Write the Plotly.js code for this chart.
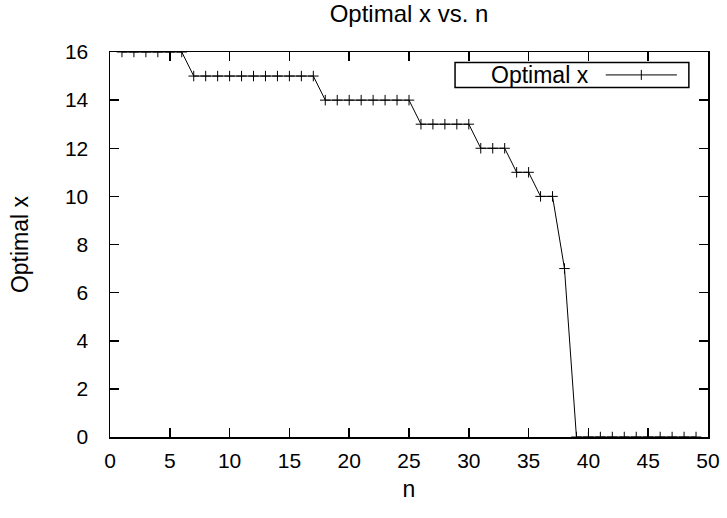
<!DOCTYPE html>
<html>
<head>
<meta charset="utf-8">
<script src="https://cdn.plot.ly/plotly-3.0.1.min.js"></script>
<style>html,body{margin:0;padding:0;background:#fff;}#chart{width:727px;height:518px;}</style>
</head>
<body>
<div id="chart"></div>
<script>
const nValues = [1,2,3,4,5,6,7,8,9,10,11,12,13,14,15,16,17,18,19,20,21,22,23,24,25,26,27,28,29,30,31,32,33,34,35,36,37,38,39,40,41,42,43,44,45,46,47,48,49];
const optimalX = [16,16,16,16,16,16,15,15,15,15,15,15,15,15,15,15,15,14,14,14,14,14,14,14,14,13,13,13,13,13,12,12,12,11,11,10,10,7,0,0,0,0,0,0,0,0,0,0,0];
const seriesName = "Optimal x";
const xTicks = [0,5,10,15,20,25,30,35,40,45,50];
const yTicks = [0,2,4,6,8,10,12,14,16];

const fam = "Liberation Sans, Arial, sans-serif";
const axisCommon = {
  showline: true, linecolor: "#000", linewidth: 1.5, mirror: "ticks",
  ticks: "inside", ticklen: 9, tickwidth: 1.5, tickcolor: "#000",
  showgrid: false, zeroline: false, tickmode: "array",
  tickfont: {family: fam, size: 21, color: "#000"}
};

const trace = {
  x: nValues, y: optimalX, name: seriesName, mode: "lines+markers", type: "scatter",
  line: {color: "#000", width: 1},
  marker: {symbol: "cross-thin", size: 7.5, color: "#000", line: {color: "#000", width: 1}},
  showlegend: false
};

// legend box drawn in plot-area fractions (gnuplot style: text then sample)
const L = {x0: 0.577, x1: 0.968, y0: 0.908, y1: 0.973};
const ym = (L.y0 + L.y1) / 2;
const lineY = ym;
const shapes = [
  {type: "rect", xref: "paper", yref: "paper", x0: L.x0, x1: L.x1, y0: L.y0, y1: L.y1,
   line: {color: "#000", width: 1.5}, fillcolor: "#fff", layer: "above"},
  {type: "line", xref: "paper", yref: "paper", x0: 0.829, x1: 0.948, y0: lineY, y1: lineY,
   line: {color: "#000", width: 1}, layer: "above"},
  {type: "line", xref: "paper", yref: "paper", x0: 0.8885, x1: 0.8885, y0: lineY - 0.013, y1: lineY + 0.013,
   line: {color: "#000", width: 1}, layer: "above"}
];
const annotations = [
  {text: seriesName, xref: "paper", yref: "paper", x: 0.804, y: ym, xanchor: "right", yanchor: "middle",
   showarrow: false, font: {family: fam, size: 23, color: "#000"}}
];

const layout = {
  width: 727, height: 518,
  margin: {l: 110, r: 19, t: 52, b: 81},
  paper_bgcolor: "#fff", plot_bgcolor: "#fff",
  font: {family: fam, size: 21, color: "#000"},
  title: {text: "Optimal x vs. n", font: {family: fam, size: 24, color: "#000"}, x: 0.5, xref: "paper", xanchor: "center", y: 0.973, yanchor: "middle"},
  xaxis: Object.assign({}, axisCommon, {range: [0, 50], tickvals: xTicks, ticktext: xTicks.map(String),
    ticklabelstandoff: 4,
    title: {text: "n", font: {family: fam, size: 23, color: "#000"}, standoff: 10}}),
  yaxis: Object.assign({}, axisCommon, {range: [0, 16], tickvals: yTicks, ticktext: yTicks.map(String),
    ticklabelstandoff: 16,
    title: {text: "Optimal x", font: {family: fam, size: 23, color: "#000"}, standoff: 30}}),
  showlegend: false,
  shapes: shapes,
  annotations: annotations
};

Plotly.newPlot("chart", [trace], layout, {displayModeBar: false, staticPlot: true});
</script>
</body>
</html>
